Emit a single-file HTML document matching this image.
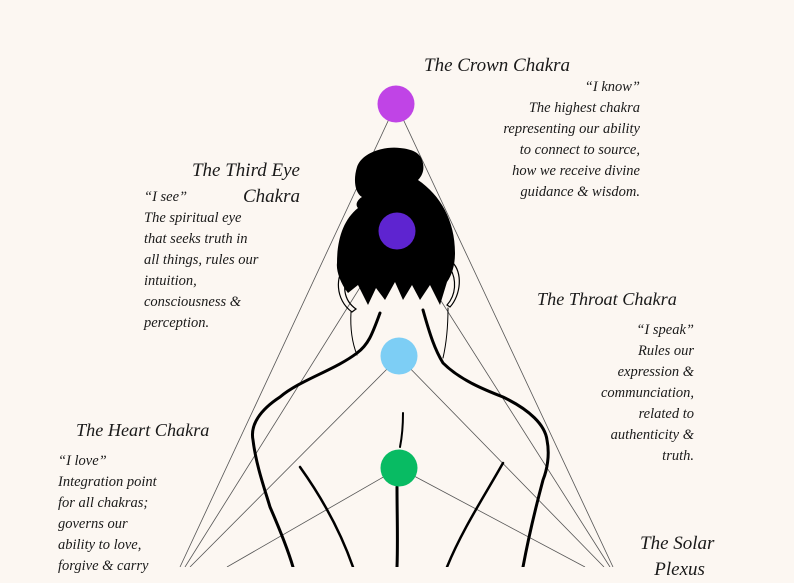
<!DOCTYPE html>
<html><head><meta charset="utf-8"><style>
html,body{margin:0;padding:0}
body{width:794px;height:567px;overflow:hidden;background:#fcf7f2;position:relative;font-family:"Liberation Serif",serif;font-style:italic;color:#1a1a1a}
.t{position:absolute;font-size:19px;white-space:nowrap}
.b{position:absolute;font-size:14.5px;line-height:21px;white-space:nowrap}
.r{text-align:right}
svg{position:absolute;left:0;top:0}
</style></head><body>
<svg width="794" height="567" viewBox="0 0 794 567">
<g stroke="#555" stroke-width="0.8" fill="none">
<line x1="396" y1="104" x2="180" y2="567"/><line x1="396" y1="104" x2="613" y2="567"/>
<line x1="396" y1="230" x2="185" y2="567"/><line x1="396" y1="230" x2="610" y2="567"/>
<line x1="399" y1="357" x2="190" y2="567"/><line x1="399" y1="357" x2="604" y2="567"/>
<line x1="399" y1="468" x2="227" y2="567"/><line x1="399" y1="468" x2="585" y2="567"/>
</g>
<!-- hair -->
<path d="M357 167 C362 152 385 146 400 148 C412 149 420 153 422 160 C425 168 423 175 418 180 C440 195 455 220 455 253 C455 265 452 275 447 282 L440 305 L430 285 L420 300 L412 285 L403 300 L395 282 L385 300 L376 288 L368 305 L358 285 L348 293 C340 283 336 270 337 263 C337 240 343 220 358 208 C355 205 357 200 362 197 C355 193 353 180 357 167 Z" fill="#000"/>
<!-- ears -->
<path d="M346 265 C335 275 335 300 352 312 L356 309 C343 300 342 285 349 270 Z" fill="none" stroke="#000" stroke-width="1.2"/>
<path d="M452 262 C463 272 461 295 450 307 L447 305 C456 295 457 280 450 268 Z" fill="none" stroke="#000" stroke-width="1.2"/>
<g fill="none" stroke="#000" stroke-linecap="round">
<path d="M380 313 C372 335 368 345 357 353 C335 370 300 380 280 397 C260 410 250 425 253 440 C256 465 265 490 270 507 C280 530 288 550 293 567" stroke-width="3"/>
<path d="M423 310 C430 335 435 350 443 363 C460 380 485 390 503 397 C530 410 545 425 547 440 C550 455 547 470 543 480 C535 510 528 540 523 567" stroke-width="3"/>
<path d="M300 467 C320 495 340 530 353 567" stroke-width="2.5"/>
<path d="M503 463 C485 495 462 530 447 567" stroke-width="2.5"/>
<path d="M403 413 C403 425 402 437 400 447" stroke-width="2"/>
<path d="M397 487 C397 515 398 540 397 567" stroke-width="3"/>
<path d="M351 312 C350 330 353 345 357 355" stroke-width="1"/>
<path d="M448 308 C448 330 446 345 443 358" stroke-width="1"/>
</g>
<circle cx="396" cy="104" r="18.5" fill="#c044e6"/>
<circle cx="397" cy="231" r="18.5" fill="#5e24d0"/>
<circle cx="399" cy="356" r="18.5" fill="#7dcef5"/>
<circle cx="399" cy="468" r="18.5" fill="#08bb63"/>
</svg>
<div class="t" style="left:424px;top:55px">The Crown Chakra</div>
<div class="b r" style="right:154px;top:77px">“I know”<br>The highest chakra<br>representing our ability<br>to connect to source,<br>how we receive divine<br>guidance &amp; wisdom.</div>
<div class="t r" style="right:494px;top:158px;line-height:26px">The Third Eye<br>Chakra</div>
<div class="b" style="left:144px;top:187px">“I see”<br>The spiritual eye<br>that seeks truth in<br>all things, rules our<br>intuition,<br>consciousness &amp;<br>perception.</div>
<div class="t" style="left:537px;top:289px;font-size:18.2px">The Throat Chakra</div>
<div class="b r" style="right:100px;top:320px">“I speak”<br>Rules our<br>expression &amp;<br>communciation,<br>related to<br>authenticity &amp;<br>truth.</div>
<div class="t" style="left:76px;top:420px;font-size:18.2px">The Heart Chakra</div>
<div class="b" style="left:58px;top:451px">“I love”<br>Integration point<br>for all chakras;<br>governs our<br>ability to love,<br>forgive &amp; carry</div>
<div class="t" style="left:640px;top:531px;line-height:26px">The Solar<br>&nbsp;&nbsp;&nbsp;Plexus</div>
</body></html>
